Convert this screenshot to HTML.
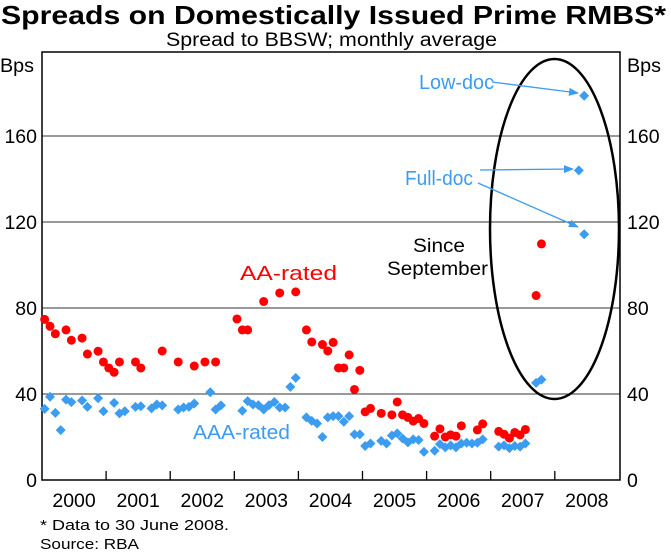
<!DOCTYPE html>
<html><head><meta charset="utf-8"><style>
body{margin:0;background:#fff;}
svg text{font-family:"Liberation Sans",Arial,sans-serif;}
</style></head><body>
<svg id="chart" width="671" height="552" xmlns="http://www.w3.org/2000/svg">
<text x="1" y="24" font-size="26" font-weight="bold" textLength="665" lengthAdjust="spacingAndGlyphs">Spreads on Domestically Issued Prime RMBS*</text>
<text x="166" y="46" font-size="19" textLength="331" lengthAdjust="spacingAndGlyphs">Spread to BBSW; monthly average</text>
<text x="0" y="72" font-size="19" textLength="34" lengthAdjust="spacingAndGlyphs">Bps</text>
<text x="627" y="72" font-size="19" textLength="34" lengthAdjust="spacingAndGlyphs">Bps</text>
<g id="grid"></g>
<g id="axes"></g>
<g id="marks"></g>
<ellipse cx="554.5" cy="229" rx="64.5" ry="170" fill="none" stroke="#000" stroke-width="2.5"/>
<text x="240" y="280" font-size="20" fill="#ff0000" textLength="97" lengthAdjust="spacingAndGlyphs">AA-rated</text>
<text x="193" y="439" font-size="20" fill="#3b9cf0" textLength="97" lengthAdjust="spacingAndGlyphs">AAA-rated</text>
<text x="419" y="89" font-size="20" fill="#3b9cf0" textLength="75" lengthAdjust="spacingAndGlyphs">Low-doc</text>
<text x="405" y="185" font-size="20" fill="#3b9cf0" textLength="68" lengthAdjust="spacingAndGlyphs">Full-doc</text>
<text x="413" y="252" font-size="19" textLength="52" lengthAdjust="spacingAndGlyphs">Since</text>
<text x="387" y="275" font-size="19" textLength="101" lengthAdjust="spacingAndGlyphs">September</text>
<defs><marker id="ah" markerWidth="10" markerHeight="8" refX="9" refY="4" orient="auto" markerUnits="userSpaceOnUse"><path d="M0,0 L10,4 L0,8 Z" fill="#3b9cf0"/></marker></defs>
<line x1="492" y1="82" x2="578" y2="93" stroke="#3b9cf0" stroke-width="1.3" marker-end="url(#ah)"/>
<line x1="480" y1="170" x2="573" y2="169" stroke="#3b9cf0" stroke-width="1.3" marker-end="url(#ah)"/>
<line x1="478" y1="183" x2="578" y2="227" stroke="#3b9cf0" stroke-width="1.3" marker-end="url(#ah)"/>
<text x="40" y="530" font-size="15" textLength="189" lengthAdjust="spacingAndGlyphs">*   Data to 30 June 2008.</text>
<text x="40" y="549" font-size="15" textLength="99" lengthAdjust="spacingAndGlyphs">Source: RBA</text>
</svg>
<script>
const yTicks=[0,40,80,120,160];
const years=["2000","2001","2002","2003","2004","2005","2006","2007","2008"];
const aaMonths=[0,1,2,4,5,7,8,10,11,12,13,14,17,18,22,25,28,30,32,36,37,38,41,44,47,49,50,52,53,54,55,56,57,58,59,60,61,63,65,66,67,68,69,70,71,73,74,75,76,77,78,81,82,85,86,87,88,89,90,92,93];
const aaValues=[74.7,71.5,68,69.8,65,66,58.6,59.9,54.9,52.1,50.1,54.9,54.9,52.1,60,54.9,53,54.9,54.9,74.9,69.8,69.8,83,87,87.5,69.8,64.2,63,60,64,52.1,52.1,58.2,42.1,51,31.7,33.3,31,30.3,36.3,30.3,29.1,27.4,28.6,26.3,20.4,23.8,20,21,20.4,25.2,23.3,26.1,22.6,21.3,19.5,22.1,21,23.5,85.8,109.8];
const aaaMonths=[0,1,2,3,4,5,7,8,10,11,13,14,15,17,18,20,21,22,25,26,27,28,31,32,33,37,38,39,40,41,42,43,44,45,46,47,49,50,51,52,53,54,55,56,57,58,59,60,61,63,64,65,66,67,68,69,70,71,73,74,75,76,77,78,79,80,81,82,85,86,87,88,89,90,92,93,101];
const aaaValues=[33.1,38.7,31.2,23.2,37.4,36.2,37,34,38,32,35.9,31,32,34,34.3,33.3,35.1,34.7,32.8,33.7,34,35.6,40.8,32.8,34.7,32.2,36.7,35.1,34.8,32.8,34.8,36.3,33.7,33.7,43.3,47.5,29.1,27.5,26.3,20,29.1,29.7,29.7,27.1,29.7,21.2,21.2,15.8,17,18.2,17,20.7,21.7,19.3,17.5,18.9,18.6,13.1,13.6,16.7,15.2,16.1,15.2,17,17.3,17,17.3,18.9,15.5,16.1,14.8,15.8,15.5,17,45.2,46.7,114.3];
const lowDocMonths=[101];
const lowDocValues=[178.7];
const fullDocMonths=[100];
const fullDocValues=[144];

const NS="http://www.w3.org/2000/svg";
const L=42,R=620,T=52,B=480,yearW=64.1;
function xPos(m){return L+(m+0.5)*yearW/12;}
function yPos(v){return B-v*2.15;}
function mk(tag,attrs,parent){const e=document.createElementNS(NS,tag);for(const k in attrs)e.setAttribute(k,attrs[k]);parent.appendChild(e);return e;}
const grid=document.getElementById('grid'),axes=document.getElementById('axes'),marks=document.getElementById('marks');
yTicks.forEach(t=>{
  if(t>0){const g=mk('line',{x1:L,x2:R,y1:yPos(t),y2:yPos(t),stroke:'#333','stroke-width':1},grid);
  
  }
  const a=mk('text',{x:37,y:yPos(t)+7,'text-anchor':'end','font-size':19.5},axes);a.textContent=t;
  
  
  const b=mk('text',{x:627,y:yPos(t)+7,'font-size':19.5},axes);b.textContent=t;
  
  
});
const frame=mk('rect',{x:L,y:T,width:R-L,height:B-T,fill:'none',stroke:'#000','stroke-width':1.5},axes);


years.forEach((yr,i)=>{
  const cx=L+(i+0.5)*yearW;
  const tx=mk('text',{x:cx,y:507,'text-anchor':'middle','font-size':19.5},axes);tx.textContent=yr;
  
  
  if(i>0){const tk=mk('line',{x1:L+i*yearW,x2:L+i*yearW,y1:B,y2:B-9,stroke:'#000','stroke-width':1.3},axes);
  
  }
});
aaMonths.forEach((m,i)=>{
  const c=mk('circle',{cx:xPos(m),cy:yPos(aaValues[i]),r:4.5,fill:'#ff0000'},marks);
  
  
});
function diamond(m,v,name){
  const x=xPos(m),y=yPos(v),s=5;
  const p=mk('polygon',{points:`${x},${y-s} ${x+s},${y} ${x},${y+s} ${x-s},${y}`,fill:'#3b9cf0'},marks);
  
  
}
aaaMonths.forEach((m,i)=>diamond(m,aaaValues[i],'aaa-point'));
lowDocMonths.forEach((m,i)=>diamond(m,lowDocValues[i],'low-doc-point'));
fullDocMonths.forEach((m,i)=>diamond(m,fullDocValues[i],'full-doc-point'));
</script>
</body></html>
